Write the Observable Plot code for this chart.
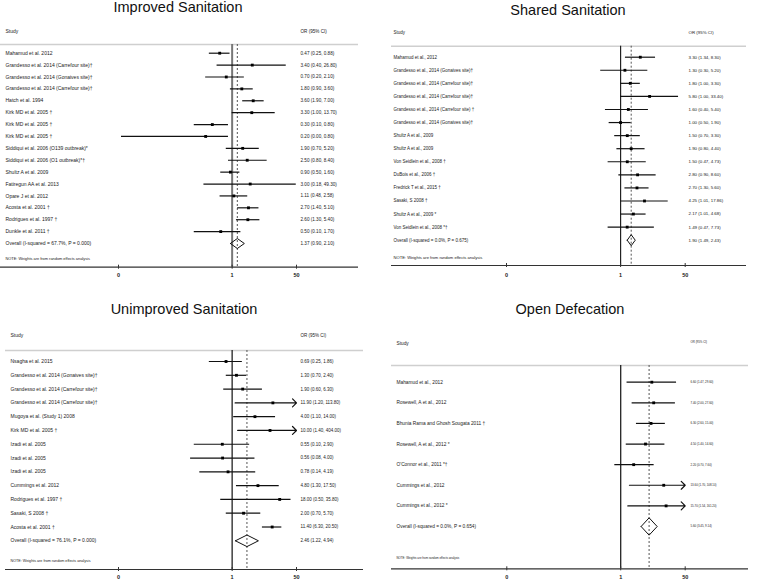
<!DOCTYPE html>
<html><head><meta charset="utf-8">
<script src="https://cdn.jsdelivr.net/npm/d3@7"></script>
<script src="https://cdn.jsdelivr.net/npm/@observablehq/plot@0.6"></script>
<style>
html,body{margin:0;padding:0;background:#fff;}
body{width:757px;height:582px;position:relative;overflow:hidden;font-family:"Liberation Sans",Arial,Helvetica,sans-serif;}
.title{position:absolute;width:378px;text-align:center;font-size:14.5px;line-height:14.5px;color:#111;white-space:nowrap;}
.panel{position:absolute;}
.panel svg{display:block;}
</style></head><body>
<script>
// ---- axis ticks ----
const tickValues = [0.001, 1, 50];
const tickLabels = ["0", "1", "50"];
const noteText = "NOTE: Weights are from random effects analysis";

// ---- Improved Sanitation ----
const improvedStudies = ["Mahamud et al. 2012", "Grandesso et al. 2014 (Carrefour site)†", "Grandesso et al. 2014 (Gonaives site)†", "Grandesso et al. 2014 (Carrefour site)†", "Hatch et al. 1994", "Kirk MD et al. 2005 †", "Kirk MD et al. 2005 †", "Kirk MD et al. 2005 †", "Siddiqui et al. 2006 (O139 outbreak)*", "Siddiqui et al. 2006 (O1 outbreak)*†", "Shultz A et al. 2009", "Fatiregun AA et al. 2013", "Opare J et al. 2012", "Acosta et al. 2001 †", "Rodrigues et al. 1997 †", "Dunkle et al. 2011 †"];
const improvedOR = [0.47, 3.40, 0.70, 1.80, 3.60, 3.30, 0.30, 0.20, 1.90, 2.50, 0.90, 3.00, 1.11, 2.70, 2.60, 0.50];
const improvedLo = [0.25, 0.40, 0.20, 0.90, 1.90, 1.00, 0.10, 0.0012, 0.70, 0.80, 0.50, 0.18, 0.48, 1.40, 1.30, 0.10];
const improvedHi = [0.88, 26.80, 2.10, 3.60, 7.00, 13.70, 0.80, 0.80, 5.20, 8.40, 1.60, 49.30, 2.58, 5.10, 5.40, 1.70];
const improvedOverall = [1.37, 0.90, 2.10];
const improvedHet = "Overall (I-squared = 67.7%, P = 0.000)";

// ---- Shared Sanitation ----
const sharedStudies = ["Mahamud et al., 2012", "Grandesso et al., 2014 (Gonaives site)†", "Grandesso et al., 2014 (Carrefour site)†", "Grandesso et al., 2014 (Carrefour site)†", "Grandesso et al., 2014 (Carrefour site) †", "Grandesso et al., 2014 (Gonaives site)†", "Shultz A et al., 2009", "Shultz A et al., 2009", "Von Seidlein et al., 2008 †", "DuBois et al., 2006 †", "Fredrick T et al., 2015 †", "Sasaki, S 2008 †", "Shultz A et al., 2009 *", "Von Seidlein et al., 2008 *†"];
const sharedOR = [3.30, 1.30, 1.80, 5.80, 1.60, 1.00, 1.50, 1.90, 1.50, 2.80, 2.70, 4.25, 2.17, 1.49];
const sharedLo = [1.34, 0.30, 1.00, 1.00, 0.40, 0.50, 0.70, 0.80, 0.47, 0.90, 1.30, 1.01, 1.01, 0.47];
const sharedHi = [8.30, 5.20, 3.30, 33.40, 5.40, 1.90, 3.30, 4.40, 4.73, 8.60, 5.60, 17.86, 4.68, 7.73];
const sharedOverall = [1.90, 1.49, 2.43];
const sharedHet = "Overall (I-squared = 0.0%, P = 0.675)";

// ---- Unimproved Sanitation ----
const unimprovedStudies = ["Nsagha et al. 2015", "Grandesso et al. 2014 (Gonaives site)†", "Grandesso et al. 2014 (Carrefour site)†", "Grandesso et al. 2014 (Carrefour site)†", "Mugoya et al. (Study 1) 2008", "Kirk MD et al. 2005 †", "Izadi et al. 2005", "Izadi et al. 2005", "Izadi et al. 2005", "Cummings et al. 2012", "Rodrigues et al. 1997 †", "Sasaki, S 2008 †", "Acosta et al. 2001 †"];
const unimprovedOR = [0.69, 1.30, 1.90, 11.90, 4.00, 10.00, 0.55, 0.56, 0.78, 4.80, 18.00, 2.00, 11.40];
const unimprovedLo = [0.25, 0.70, 0.60, 1.20, 1.10, 1.40, 0.10, 0.08, 0.14, 1.30, 0.50, 0.70, 6.30];
const unimprovedHi = [1.86, 2.40, 6.30, 113.80, 14.00, 404.00, 2.90, 4.00, 4.19, 17.50, 35.80, 5.70, 20.50];
const unimprovedOverall = [2.46, 1.22, 4.94];
const unimprovedHet = "Overall (I-squared = 76.1%, P = 0.000)";

// ---- Open Defecation ----
const openStudies = ["Mahamud et al., 2012", "Rosewell, A et al., 2012", "Bhunia Rama and Ghosh Sougata 2011 †", "Rosewell, A et al., 2012 *", "O'Connor et al., 2011 *†", "Cummings et al., 2012", "Cummings et al., 2012 *"];
const openOR = [6.60, 7.40, 6.30, 4.50, 2.20, 13.60, 15.70];
const openLo = [1.47, 2.00, 2.60, 1.40, 0.70, 1.70, 1.54];
const openHi = [29.60, 27.60, 15.00, 14.60, 7.60, 108.10, 161.20];
const openOverall = [5.60, 3.45, 9.14];
const openHet = "Overall (I-squared = 0.0%, P = 0.654)";

const panels = [
  {title: "Improved Sanitation", studies: improvedStudies, or: improvedOR, lo: improvedLo, hi: improvedHi, overall: improvedOverall, het: improvedHet,
   L: {left: 0, top: 18, width: 378, height: 268, ml: 0, mr: 20, xRange: [118, 296], headerPx: 26, axisPx: 248.7, firstPx: 34.7, lastPx: 225,
       labelX: 5, orX: 300, headY: 11, noteY: 241.7, tickLabelDy: 10, fs: 5, orFs: 4.6, noteFs: 3.9, titleLeft: -11, titleTop: 0, refStroke: "#777", refWidth: 2}},
  {title: "Shared Sanitation", studies: sharedStudies, or: sharedOR, lo: sharedLo, hi: sharedHi, overall: sharedOverall, het: sharedHet,
   L: {left: 378, top: 18, width: 379, height: 268, ml: 13, mr: 11, xRange: [128, 306.7], headerPx: 27.7, axisPx: 247, firstPx: 38.7, lastPx: 221.7,
       labelX: 15, orX: 310, headY: 12.7, noteY: 240.7, tickLabelDy: 11, fs: 4.5, orFs: 4.4, noteFs: 4.1, titleLeft: 379, titleTop: 3, refStroke: "#222", refWidth: 1.2}},
  {title: "Unimproved Sanitation", studies: unimprovedStudies, or: unimprovedOR, lo: unimprovedLo, hi: unimprovedHi, overall: unimprovedOverall, het: unimprovedHet,
   L: {left: 0, top: 318, width: 378, height: 264, ml: 5, mr: 15, xRange: [118, 296], headerPx: 32, axisPx: 251, firstPx: 43, lastPx: 222.3,
       labelX: 10, orX: 300, headY: 15, noteY: 243, tickLabelDy: 9.3, fs: 5, orFs: 4.5, noteFs: 3.7, titleLeft: -5, titleTop: 302, refStroke: "#222", refWidth: 1.3}},
  {title: "Open Defecation", studies: openStudies, or: openOR, lo: openLo, hi: openHi, overall: openOverall, het: openHet,
   L: {left: 378, top: 318, width: 379, height: 264, ml: 13, mr: 9, xRange: [128.3, 306.7], headerPx: 47, axisPx: 250.3, firstPx: 63.7, lastPx: 208,
       labelX: 18, orX: 312, headY: 22.7, noteY: 240.3, tickLabelDy: 10, fs: 4.8, orFs: 2.9, noteFs: 2.9, titleLeft: 381, titleTop: 302, refStroke: "#222", refWidth: 1.3}}
];

const fmt = d3.format(".2f");
const orLabel = d => `${fmt(d.or)} (${fmt(d.lo)}, ${fmt(d.hi)})`;

function forest(p) {
  const L = p.L;
  const n = p.studies.length;
  const rows = p.studies.map((s, i) => ({i, s, or: p.or[i], lo: p.lo[i], hi: p.hi[i]}));
  const overall = {i: n, s: p.het, or: p.overall[0], lo: p.overall[1], hi: p.overall[2]};
  const xMin = tickValues[0], xMax = tickValues[tickValues.length - 1];
  const step = (L.lastPx - L.firstPx) / n;
  const yTop = (L.headerPx - L.firstPx) / step;
  const yBot = (L.axisPx - L.firstPx) / step;
  const h = 0.42;
  const diamond = [
    {x: overall.lo, y: n}, {x: overall.or, y: n - h}, {x: overall.hi, y: n},
    {x: overall.or, y: n + h}, {x: overall.lo, y: n}
  ];
  const allRows = rows.concat([overall]);
  return Plot.plot({
    width: L.width, height: L.height,
    marginTop: L.headerPx, marginBottom: L.height - L.axisPx,
    marginLeft: L.ml, marginRight: L.mr,
    x: {type: "log", domain: [xMin, xMax], range: L.xRange, axis: null},
    y: {domain: [yTop, yBot], range: [L.headerPx, L.axisPx], axis: null},
    style: {fontFamily: "'Liberation Sans', Arial, Helvetica, sans-serif", background: "white", color: "#1a1a1a", overflow: "visible"},
    marks: [
      Plot.ruleY([yTop], {stroke: "#cfcfcf", strokeWidth: 1.6}),
      Plot.ruleX([1], {stroke: L.refStroke, strokeWidth: L.refWidth}),
      Plot.ruleX([overall.or], {stroke: "#555", strokeWidth: 1, strokeDasharray: "2,2"}),
      Plot.ruleY(rows.filter(d => d.hi <= xMax), {y: "i", x1: "lo", x2: "hi", stroke: "#111", strokeWidth: 1.2}),
      Plot.arrow(rows.filter(d => d.hi > xMax), {x1: "lo", x2: () => xMax, y1: "i", y2: "i", stroke: "#111", strokeWidth: 1.2, headAngle: 90, headLength: 7}),
      Plot.dot(rows, {x: "or", y: "i", symbol: "square", r: 1.6, fill: "#000", stroke: "none"}),
      Plot.line(diamond, {x: "x", y: "y", stroke: "#111", strokeWidth: 1, fill: "none"}),
      Plot.text(allRows, {y: "i", text: "s", frameAnchor: "left", dx: L.labelX - L.ml, textAnchor: "start", fontSize: L.fs}),
      Plot.text(allRows, {y: "i", text: orLabel, frameAnchor: "left", dx: L.orX - L.ml, textAnchor: "start", fontSize: L.orFs}),
      Plot.text(["Study"], {frameAnchor: "top-left", dx: L.labelX - L.ml, dy: L.headY - L.headerPx, textAnchor: "start", fontSize: L.fs}),
      Plot.text(["OR (95% CI)"], {frameAnchor: "top-left", dx: L.orX - L.ml, dy: L.headY - L.headerPx, textAnchor: "start", fontSize: L.orFs}),
      Plot.text([noteText], {frameAnchor: "bottom-left", dx: L.labelX - L.ml, dy: L.noteY - L.axisPx, textAnchor: "start", fontSize: L.noteFs}),
      // x axis: line, ticks and labels
      Plot.ruleY([yBot], {stroke: "#333", strokeWidth: 1.2}),
      Plot.ruleX(tickValues, {x: d => d, y1: yBot, y2: yBot, insetTop: -2, insetBottom: -2, stroke: "#333", strokeWidth: 1}),
      Plot.text(tickValues, {x: d => d, text: (d, i) => tickLabels[i], frameAnchor: "bottom", dy: L.tickLabelDy, fontSize: 5.5, fontWeight: "bold"})
    ]
  });
}

for (const p of panels) {
  const t = document.createElement("div");
  t.className = "title";
  t.textContent = p.title;
  t.style.left = p.L.titleLeft + "px";
  t.style.top = p.L.titleTop + "px";
  document.body.appendChild(t);
  const d = document.createElement("div");
  d.className = "panel";
  d.style.left = p.L.left + "px";
  d.style.top = p.L.top + "px";
  d.appendChild(forest(p));
  document.body.appendChild(d);
}
</script>
</body></html>
